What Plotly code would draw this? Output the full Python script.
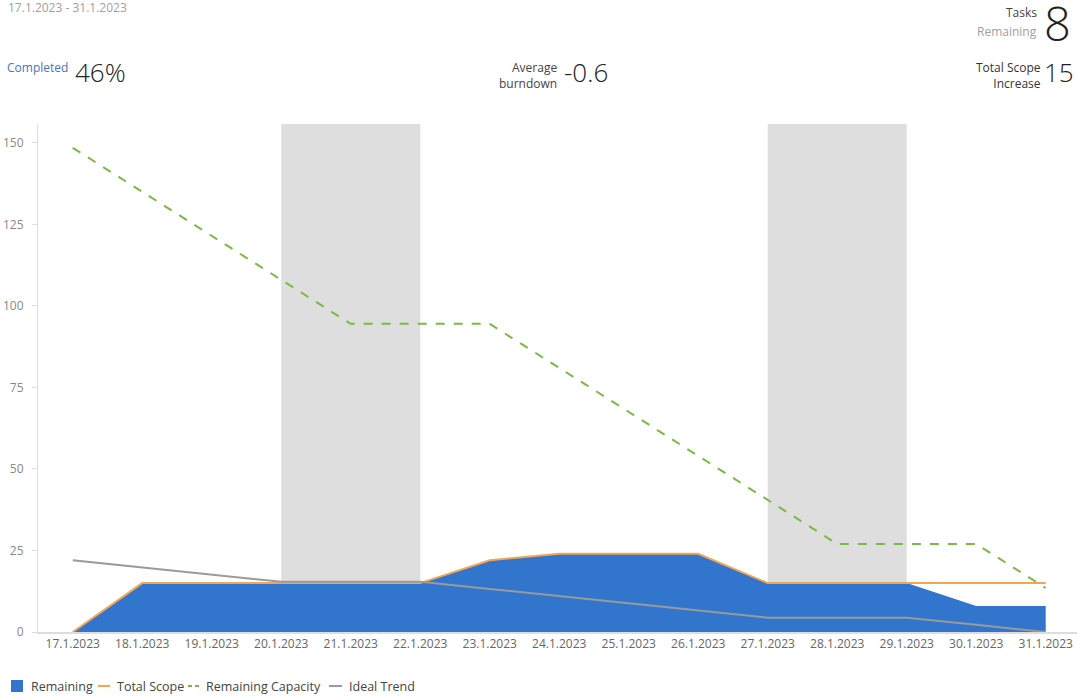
import plotly.graph_objects as go

# Sprint days
dates = ["17.1.2023", "18.1.2023", "19.1.2023", "20.1.2023", "21.1.2023",
         "22.1.2023", "23.1.2023", "24.1.2023", "25.1.2023", "26.1.2023",
         "27.1.2023", "28.1.2023", "29.1.2023", "30.1.2023", "31.1.2023"]

remaining = [0, 15, 15, 15, 15, 15, 22, 24, 24, 24, 15, 15, 15, 8, 8]
total_scope = [0, 15, 15, 15, 15, 15, 22, 24, 24, 24, 15, 15, 15, 15, 15]
remaining_capacity = [148.5, 135, 121.5, 108, 94.5, 94.5, 94.5, 81, 67.5, 54,
                      40.5, 27, 27, 27, 13.5]
ideal_trend = [22, 19.8, 17.6, 15.4, 15.4, 15.4, 13.2, 11, 8.8, 6.6,
               4.4, 4.4, 4.4, 2.2, 0]

# Non-working periods (start, end) as day labels
off_periods = [("20.1.2023", "22.1.2023"), ("27.1.2023", "29.1.2023")]

y_ticks = [0, 25, 50, 75, 100, 125, 150]

FONT = "Open Sans"
W, H = 1077, 696
L, R, T, B = 38, 0, 124, 64
PW, PH = W - L - R, H - T - B

C_REM, C_SCOPE, C_CAP, C_IDEAL = "#3275CC", "#F2A653", "#7CB843", "#9A9A9A"


def px(x):
    return (x - L) / PW


def py(y):
    return (H - B - y) / PH


fig = go.Figure()

fig.add_trace(go.Scatter(
    x=dates, y=remaining, name="Remaining", mode="lines",
    line=dict(color=C_REM, width=0), fill="tozeroy", fillcolor=C_REM,
))
fig.add_trace(go.Scatter(
    x=dates, y=total_scope, name="Total Scope", mode="lines",
    line=dict(color=C_SCOPE, width=2),
))
fig.add_trace(go.Scatter(
    x=dates, y=remaining_capacity, name="Remaining Capacity", mode="lines",
    line=dict(color=C_CAP, width=2, dash="dash"),
))
fig.add_trace(go.Scatter(
    x=dates, y=ideal_trend, name="Ideal Trend", mode="lines",
    line=dict(color=C_IDEAL, width=2),
))

for a, b in off_periods:
    fig.add_shape(type="rect", xref="x", yref="paper",
                  x0=dates.index(a), x1=dates.index(b), y0=0, y1=1,
                  fillcolor="#DEDEDE", line=dict(width=0), layer="below")

ann = []


def text(x, y, s, size=12, color="#333", xanchor="left", align="left", weight=None):
    f = dict(family=FONT, size=size, color=color)
    if weight:
        f["weight"] = weight
    ann.append(dict(x=px(x), y=py(y), xref="paper", yref="paper", text=s,
                    showarrow=False, xanchor=xanchor, yanchor="middle",
                    align=align, font=f, borderpad=0))


# Header figures
text(7, 8, "17.1.2023 - 31.1.2023", 12, "#A0A0A0")
text(6, 68, "Completed", 12, "#4A74B4")
text(74, 72, "46%", 26, "#222", weight=300)
text(558, 76, "Average<br>burndown", 12, "#444", xanchor="right", align="right")
text(563, 72, "-0.6", 26, "#222", weight=300)
text(1038, 13, "Tasks", 12, "#444", xanchor="right", align="right")
text(1038, 31, "Remaining", 12, "#A0A0A0", xanchor="right", align="right")
text(1072, 23, "8", 47, "#222", xanchor="right", weight=200)
text(1042, 76, "Total Scope<br>Increase", 12, "#333", xanchor="right", align="right")
text(1043, 72, "15", 26, "#222", weight=300)

# Compact legend row along the bottom edge
LEG_Y = 686
legend_items = [
    ("box", C_REM, None, 11, 23, 30, "Remaining"),
    ("line", C_SCOPE, "solid", 98, 110, 116, "Total Scope"),
    ("line", C_CAP, "dash", 188, 201, 205, "Remaining Capacity"),
    ("line", C_IDEAL, "solid", 329, 342, 348, "Ideal Trend"),
]
shapes = []
for kind, color, dash, x0, x1, tx, label in legend_items:
    if kind == "box":
        shapes.append(dict(type="rect", xref="paper", yref="paper",
                           x0=px(x0), x1=px(x1), y0=py(LEG_Y + 6), y1=py(LEG_Y - 6),
                           fillcolor=color, line=dict(width=0)))
    else:
        shapes.append(dict(type="line", xref="paper", yref="paper",
                           x0=px(x0), x1=px(x1), y0=py(LEG_Y), y1=py(LEG_Y),
                           line=dict(color=color, width=2,
                                     dash="4px,3px" if dash == "dash" else "solid")))
    text(tx, LEG_Y, label, 12.5, "#444")

for s in shapes:
    fig.add_shape(**s)

fig.update_layout(
    width=W, height=H,
    margin=dict(l=L, r=R, t=T, b=B, autoexpand=False),
    paper_bgcolor="white", plot_bgcolor="white",
    font=dict(family=FONT, size=12, color="#444"),
    showlegend=False,
    annotations=ann,
    xaxis=dict(type="category", range=[-0.5, 14.45], showgrid=False,
               showline=True, linecolor="#DDDDDD", linewidth=2,
               ticks="", tickfont=dict(size=12, color="#666"),
               zeroline=False, fixedrange=True),
    yaxis=dict(range=[0, 155.8], tickvals=y_ticks, showgrid=False,
               showline=True, linecolor="#DDDDDD", linewidth=1,
               ticks="outside", ticklen=5, tickcolor="#DDDDDD",
               ticklabelstandoff=6,
               tickfont=dict(size=12, color="#888"), zeroline=False,
               fixedrange=True),
)

fig.write_html("out.html")
